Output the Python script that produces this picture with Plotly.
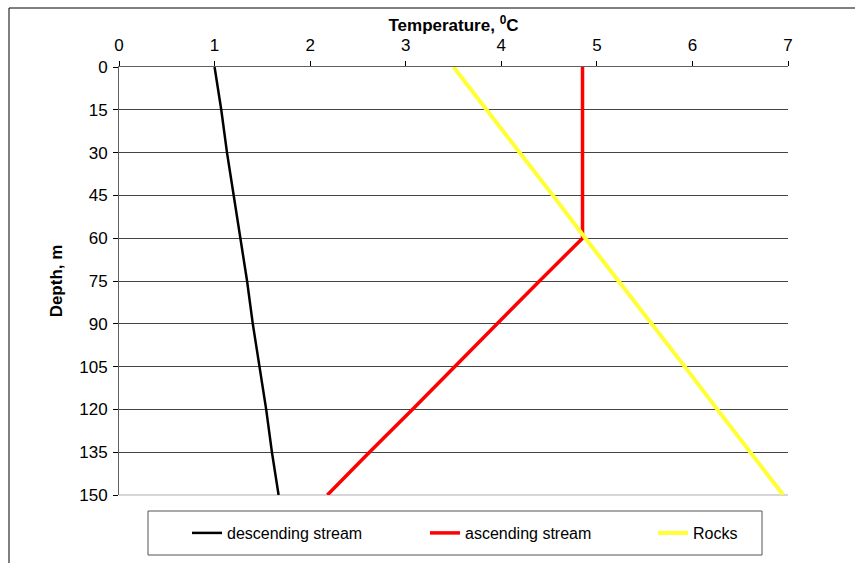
import plotly.graph_objects as go

depth = [0, 15, 30, 45, 60, 75, 90, 105, 120, 135, 150]
descending = [1.00, 1.07, 1.13, 1.20, 1.27, 1.34, 1.40, 1.47, 1.54, 1.60, 1.67]
ascending = [4.85, 4.85, 4.85, 4.85, 4.85, 4.40, 3.96, 3.51, 3.07, 2.62, 2.18]
rocks = [3.50, 3.85, 4.19, 4.54, 4.88, 5.23, 5.57, 5.92, 6.26, 6.61, 6.95]
x_ticks = [0, 1, 2, 3, 4, 5, 6, 7]
y_ticks = [0, 15, 30, 45, 60, 75, 90, 105, 120, 135, 150]

FONT = "Liberation Sans, Arial, sans-serif"

fig = go.Figure()
fig.add_trace(go.Scatter(x=descending, y=depth, mode="lines", name="descending stream",
                         line=dict(color="black", width=2.5), legend="legend"))
fig.add_trace(go.Scatter(x=ascending, y=depth, mode="lines", name="ascending stream",
                         line=dict(color="#ff0000", width=3.5), legend="legend2"))
fig.add_trace(go.Scatter(x=rocks, y=depth, mode="lines", name="Rocks",
                         line=dict(color="#ffff33", width=4), legend="legend3"))

W, H = 855, 563
L, R, T, B = 119, 67, 67, 68
pw = W - L - R
ph = H - T - B

def px(x):
    return (x - L) / pw

def py(y):
    return 1 - (y - T) / ph

def leg(xpix):
    return dict(orientation="h", x=px(xpix), y=py(533), xanchor="left", yanchor="middle",
                bgcolor="rgba(0,0,0,0)", borderwidth=0, font=dict(size=16))

fig.update_layout(
    width=W, height=H,
    margin=dict(l=L, r=R, t=T, b=B, autoexpand=False),
    paper_bgcolor="white", plot_bgcolor="white",
    font=dict(family=FONT, size=16, color="black"),
    xaxis=dict(
        side="top", range=[0, 7], tickvals=x_ticks, showgrid=False, zeroline=False,
        showline=True, linecolor="#606060", linewidth=1,
        ticks="outside", ticklen=5, tickcolor="black", ticklabelstandoff=3,
        tickfont=dict(size=17),
        title=dict(text="<b>Temperature, <sup>0</sup>C</b>", font=dict(size=17), standoff=0),
    ),
    yaxis=dict(
        range=[150, 0], tickvals=y_ticks, showgrid=True, gridcolor="#444444", gridwidth=1,
        zeroline=False, showline=True, linecolor="#606060", linewidth=1,
        ticks="outside", ticklen=5, tickcolor="black", ticklabelstandoff=2,
        tickfont=dict(size=17),
        title=dict(text="<b>Depth, m</b>", font=dict(size=17), standoff=12),
    ),
    showlegend=True,
    legend=leg(187),
    legend2=leg(425),
    legend3=leg(653),
    shapes=[
        dict(type="line", xref="paper", yref="paper", x0=0, x1=1, y0=0, y1=0,
             line=dict(color="#c8c8c8", width=1.5), layer="below"),
        dict(type="rect", xref="paper", yref="paper", x0=px(148), x1=px(762),
             y0=py(555), y1=py(511), line=dict(color="#555555", width=1)),
        dict(type="line", xref="paper", yref="paper", x0=px(9), x1=px(9),
             y0=py(8), y1=py(570), line=dict(color="black", width=1)),
        dict(type="line", xref="paper", yref="paper", x0=px(9), x1=px(860),
             y0=py(8), y1=py(8), line=dict(color="black", width=1)),
    ],
)

fig.write_html("out.html")
